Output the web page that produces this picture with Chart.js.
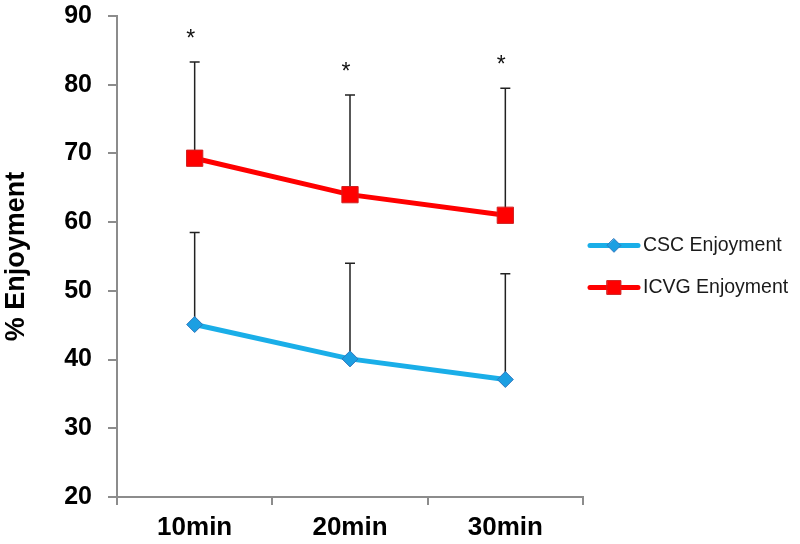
<!DOCTYPE html>
<html>
<head>
<meta charset="utf-8">
<script src="https://cdn.jsdelivr.net/npm/chart.js@4.4.1/dist/chart.umd.min.js"></script>
<style>
  html, body { margin: 0; padding: 0; background: #ffffff; }
  #wrap { width: 800px; height: 544px; }
</style>
</head>
<body>
<div id="wrap"><canvas id="c" width="800" height="544"></canvas></div>
<script>
// ---- data ----
const categories = ['10min', '20min', '30min'];
const seriesNames = ['CSC Enjoyment', 'ICVG Enjoyment'];
const cscValues = [45.1, 40.1, 37.1];
const cscUpper = [58.5, 54.0, 52.5];
const icvgValues = [69.3, 64.0, 61.0];
const icvgUpper = [83.3, 78.5, 79.5];
const significanceMarks = ['*', '*', '*'];
const significanceLevels = [87.5, 82.8, 83.7];
const yMin = 20, yMax = 90, yStep = 10;
const yTitle = '% Enjoyment';

const errorUpper = [cscUpper, icvgUpper];

const errorBarPlugin = {
  id: 'errorBars',
  beforeDatasetsDraw(chart) {
    const ctx = chart.ctx;
    const xs = chart.scales.x, ys = chart.scales.y;
    ctx.save();
    ctx.strokeStyle = '#222222';
    ctx.lineWidth = 1.5;
    chart.data.datasets.forEach((ds, di) => {
      ds.data.forEach((v, i) => {
        const x = xs.getPixelForValue(i);
        const y0 = ys.getPixelForValue(v);
        const y1 = ys.getPixelForValue(errorUpper[di][i]);
        ctx.beginPath();
        ctx.moveTo(x, y0);
        ctx.lineTo(x, y1);
        ctx.moveTo(x - 5, y1);
        ctx.lineTo(x + 5, y1);
        ctx.stroke();
      });
    });
    ctx.restore();
  },
  afterDraw(chart) {
    const ctx = chart.ctx;
    const xs = chart.scales.x, ys = chart.scales.y;
    const area = chart.chartArea;
    ctx.save();
    // significance asterisks
    ctx.fillStyle = '#111111';
    ctx.font = '23px "Liberation Sans", Arial, sans-serif';
    ctx.textAlign = 'center';
    ctx.textBaseline = 'alphabetic';
    significanceMarks.forEach((m, i) => {
      const x = xs.getPixelForValue(i) - 4;
      const y = ys.getPixelForValue(significanceLevels[i]);
      ctx.fillText(m, x, y + 0.57 * 23);
    });
    // legend
    const lx = area.right + 7;
    const cy = (area.top + area.bottom) / 2 + 10;
    const gap = 42;
    chart.data.datasets.forEach((ds, di) => {
      const y = cy + (di - 0.5) * gap;
      ctx.strokeStyle = ds.borderColor;
      ctx.lineWidth = ds.borderWidth;
      ctx.lineCap = 'round';
      ctx.beginPath();
      ctx.moveTo(lx, y);
      ctx.lineTo(lx + 48, y);
      ctx.stroke();
      ctx.fillStyle = ds.pointBackgroundColor;
      ctx.strokeStyle = ds.pointBorderColor;
      ctx.lineWidth = 1;
      ctx.beginPath();
      const r = ds.pointRadius * 0.85;
      if (ds.pointStyle === 'rect') {
        const s = r * Math.SQRT1_2;
        ctx.rect(lx + 24 - s, y - s, 2 * s, 2 * s);
      } else {
        ctx.moveTo(lx + 24, y - r);
        ctx.lineTo(lx + 24 + r, y);
        ctx.lineTo(lx + 24, y + r);
        ctx.lineTo(lx + 24 - r, y);
        ctx.closePath();
      }
      ctx.fill();
      ctx.stroke();
      ctx.fillStyle = '#1a1a1a';
      ctx.font = '19.5px "Liberation Sans", Arial, sans-serif';
      ctx.textAlign = 'left';
      ctx.textBaseline = 'middle';
      ctx.fillText(ds.label, lx + 53, y);
    });
    ctx.restore();
  }
};

const ticksFont = { family: '"Liberation Sans", Arial, sans-serif', weight: 'bold', size: 25 };

new Chart(document.getElementById('c'), {
  type: 'line',
  data: {
    labels: categories,
    datasets: [
      {
        label: seriesNames[0],
        data: cscValues,
        borderColor: '#1AAEE8',
        borderWidth: 5,
        pointStyle: 'rectRot',
        pointRadius: 8,
        pointBackgroundColor: '#1C9FE2',
        pointBorderColor: '#2F78BE',
        pointBorderWidth: 1,
        tension: 0,
        fill: false
      },
      {
        label: seriesNames[1],
        data: icvgValues,
        borderColor: '#FF0000',
        borderWidth: 5,
        pointStyle: 'rect',
        pointRadius: 11.5,
        pointBackgroundColor: '#FF0000',
        pointBorderColor: '#D02020',
        pointBorderWidth: 1,
        tension: 0,
        fill: false
      }
    ]
  },
  options: {
    responsive: false,
    maintainAspectRatio: false,
    animation: false,
    events: [],
    layout: { padding: { left: 0, top: 16, right: 217, bottom: 0 } },
    plugins: {
      legend: { display: false },
      tooltip: { enabled: false }
    },
    scales: {
      x: {
        type: 'category',
        offset: true,
        grid: { offset: true, drawOnChartArea: false, drawTicks: true, tickLength: 8, color: '#8c8c8c', lineWidth: 2 },
        border: { display: true, color: '#8c8c8c', width: 2 },
        ticks: { color: '#000000', font: { family: '"Liberation Sans", Arial, sans-serif', weight: 'bold', size: 26 }, padding: 7, maxRotation: 0 },
        afterFit(scale) { scale.height = 47; }
      },
      y: {
        min: yMin,
        max: yMax,
        grid: { drawOnChartArea: false, drawTicks: true, tickLength: 9, color: '#8c8c8c', lineWidth: 2 },
        border: { display: true, color: '#8c8c8c', width: 2 },
        ticks: { stepSize: yStep, color: '#000000', font: ticksFont, padding: 16 },
        title: {
          display: true,
          text: yTitle,
          color: '#000000',
          font: { family: '"Liberation Sans", Arial, sans-serif', weight: 'bold', size: 27 },
          padding: { top: 0, bottom: 0 }
        },
        afterFit(scale) { scale.width = 117; scale.paddingTop = 0; scale.paddingBottom = 0; }
      }
    }
  },
  plugins: [errorBarPlugin]
});
</script>
</body>
</html>
